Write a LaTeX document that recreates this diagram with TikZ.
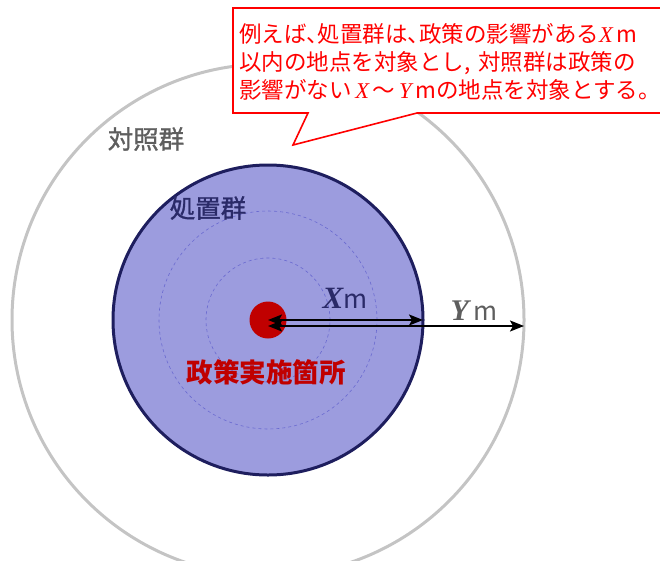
\documentclass[tikz,border=0pt]{standalone}
\usepackage{fontspec}
\setmainfont{Noto Sans CJK JP}
\newfontfamily\lserif{Liberation Serif}
\newfontfamily\medfont{Noto Sans CJK JP}[FakeBold=1.2]
\usetikzlibrary{arrows.meta}
\definecolor{treatfill}{HTML}{9C9CDE}
\definecolor{treatline}{HTML}{1E1E5E}
\definecolor{ctrlline}{HTML}{C4C4C4}
\definecolor{dotred}{HTML}{C00000}
\definecolor{callred}{HTML}{FF0000}
\definecolor{dashblue}{HTML}{6A6AD0}
\definecolor{labgray}{HTML}{5E5E5E}
\definecolor{labnavy}{HTML}{2A2A68}
\tikzset{
  ring/.style={circle, inner sep=0pt, outer sep=0pt},
  dist/.style={<->, line width=1.6pt, >={Stealth[length=14pt,width=11pt,inset=3pt]}},
  lab/.style={inner sep=1pt},
}
\newcommand{\vx}{{\lserif\itshape X}}
\newcommand{\vy}{{\lserif\itshape Y}}
\newcommand{\hten}{\makebox[0.5em][l]{、}}
\begin{document}
\begin{tikzpicture}[x=1pt,y=-1pt]
\useasboundingbox (0,0) rectangle (660,560);
\begin{scope}
\clip (0,0) rectangle (660,560);
% control ring
\node[ring, draw=ctrlline, line width=3pt, minimum size=512pt] (ctrl) at (268,320) {};
% treatment disc
\node[ring, draw=treatline, fill=treatfill, line width=3pt, minimum size=310pt] (treat) at (268,320) {};
\node[ring, draw=dashblue, dashed, line width=0.6pt, minimum size=218pt] (d2) at (268,320) {};
\node[ring, draw=dashblue, dashed, line width=0.6pt, minimum size=124pt] (d1) at (268,320) {};
% site
\node[ring, fill=dotred, minimum size=37pt] (site) at (268,320) {};
\coordinate (xa) at (268,320);
\coordinate (xb) at (423,320);
\coordinate (ya) at (268,326);
\coordinate (yb) at (524,326);
\draw[dist] (xa) -- (xb);
\draw[dist] (ya) -- (yb);
% labels
\node[lab, text=labgray, font=\medfont\fontsize{25.5}{28}\selectfont] (lctrl) at (146,139) {対照群};
\node[lab, text=labnavy, font=\medfont\fontsize{25.5}{28}\selectfont] (ltreat) at (208,208) {処置群};
\node[lab, text=labnavy, font=\fontsize{26}{28}\selectfont] (lx) at (345,298) {{\fontsize{31}{31}\selectfont\bfseries\vx}m};
\node[lab, text=labgray, font=\fontsize{26}{28}\selectfont] (ly) at (474,311) {{\fontsize{30}{30}\selectfont\bfseries\vy}\,m};
\node[lab, text=dotred, font=\bfseries\fontsize{26.5}{28}\selectfont] (lsite) at (266,372) {政策実施箇所};
% callout
\draw[callred, line width=1.6pt, fill=white, line join=miter]
  (233,8) -- (662,8) -- (662,113) -- (417,113) -- (293,145) -- (308,113) -- (233,113) -- cycle;
\node[anchor=north west, inner sep=0pt, text=callred, align=left,
      font=\fontsize{22.5}{28}\selectfont] (note) at (239,23)
  {例えば\hten 処置群は\hten 政策の影響がある\vx\,m\\
   以内の地点を対象とし,\hspace{0.35em}対照群は政策の\\
   影響がない\,\vx\,～\,\vy\,mの地点を対象とする。};
\end{scope}
\end{tikzpicture}
\end{document}
